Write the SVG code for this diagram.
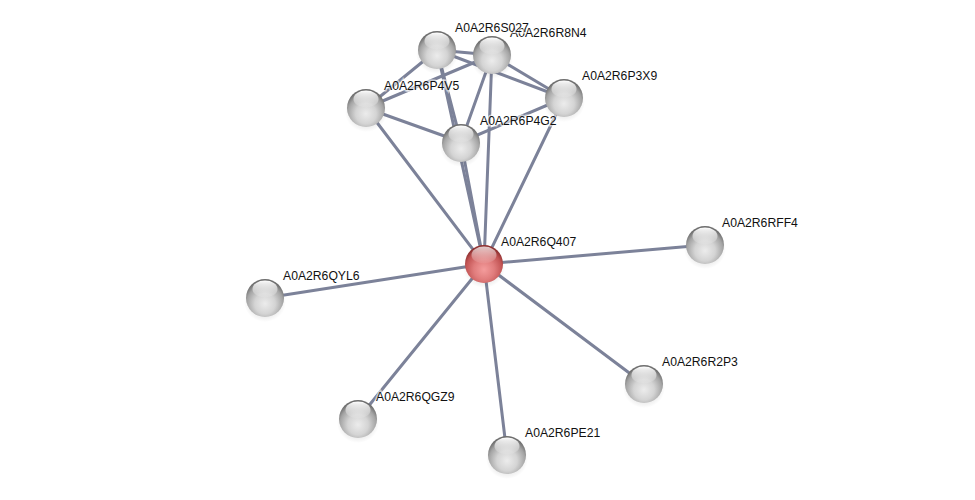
<svg xmlns="http://www.w3.org/2000/svg" width="975" height="500" viewBox="0 0 975 500">
<defs>
<radialGradient id="g" cx="50%" cy="65%" r="60%">
<stop offset="0" stop-color="#ececec"/>
<stop offset="0.45" stop-color="#d4d4d4"/>
<stop offset="0.8" stop-color="#a4a4a4"/>
<stop offset="1" stop-color="#6e6e6e"/>
</radialGradient>
<radialGradient id="r" cx="50%" cy="65%" r="60%">
<stop offset="0" stop-color="#f49c9c"/>
<stop offset="0.45" stop-color="#e07c7c"/>
<stop offset="0.8" stop-color="#c25454"/>
<stop offset="1" stop-color="#8e3030"/>
</radialGradient>
<linearGradient id="h" x1="0" y1="0" x2="0" y2="1">
<stop offset="0" stop-color="#fff" stop-opacity="1"/>
<stop offset="1" stop-color="#fff" stop-opacity="0.05"/>
</linearGradient>
<radialGradient id="sh" cx="50%" cy="50%" r="50%">
<stop offset="0" stop-color="#000" stop-opacity="0.25"/>
<stop offset="1" stop-color="#000" stop-opacity="0"/>
</radialGradient>
<g id="sph">
<ellipse cy="4" rx="21" ry="20" fill="url(#sh)"/>
<circle r="19" fill="url(#g)"/>
<ellipse cy="-9" rx="12.5" ry="8.5" fill="url(#h)"/>
</g>
</defs>
<style>
.e{stroke:#7c8299;stroke-width:3;stroke-linecap:round;fill:none}
text{font-family:"Liberation Sans",Arial,sans-serif;font-size:12.2px;fill:#111;stroke:#fff;stroke-width:3;stroke-opacity:0.6;paint-order:stroke}
</style>
<rect width="975" height="500" fill="#fff"/>
<g id="edges">
<line class="e" x1="437" y1="50" x2="366" y2="108"/>
<line class="e" x1="437" y1="50" x2="564" y2="98"/>
<line class="e" x1="437" y1="50" x2="461" y2="142"/>
<line class="e" x1="437" y1="50" x2="484" y2="264"/>
<line class="e" x1="437" y1="50" x2="492" y2="55"/>
<line class="e" x1="492" y1="55" x2="366" y2="108"/>
<line class="e" x1="492" y1="55" x2="564" y2="98"/>
<line class="e" x1="492" y1="55" x2="461" y2="142"/>
<line class="e" x1="492" y1="55" x2="484" y2="264"/>
<line class="e" x1="366" y1="108" x2="461" y2="142"/>
<line class="e" x1="366" y1="108" x2="484" y2="264"/>
<line class="e" x1="564" y1="98" x2="461" y2="142"/>
<line class="e" x1="564" y1="98" x2="484" y2="264"/>
<line class="e" x1="461" y1="142" x2="484" y2="264"/>
<line class="e" x1="484" y1="264" x2="705" y2="245"/>
<line class="e" x1="484" y1="264" x2="265" y2="298"/>
<line class="e" x1="484" y1="264" x2="644" y2="384"/>
<line class="e" x1="484" y1="264" x2="358" y2="419"/>
<line class="e" x1="484" y1="264" x2="507" y2="455"/>
</g>
<g id="A0A2R6R8N4"><use href="#sph" x="492" y="55"/><text x="510" y="37">A0A2R6R8N4</text></g>
<g id="A0A2R6S027"><use href="#sph" x="437" y="50"/><text x="455" y="32">A0A2R6S027</text></g>
<g id="A0A2R6P3X9"><use href="#sph" x="564" y="98"/><text x="582" y="80">A0A2R6P3X9</text></g>
<g id="A0A2R6P4V5"><use href="#sph" x="366" y="108"/><text x="384" y="90">A0A2R6P4V5</text></g>
<g id="A0A2R6P4G2"><use href="#sph" x="461" y="143"/><text x="480" y="125">A0A2R6P4G2</text></g>
<g id="A0A2R6Q407"><ellipse cx="484" cy="268" rx="21" ry="20" fill="url(#sh)"/><circle cx="484" cy="264" r="19" fill="url(#r)"/><ellipse cx="484" cy="255" rx="12.5" ry="8.5" fill="url(#h)" opacity="0.75"/><text x="501" y="246">A0A2R6Q407</text></g>
<g id="A0A2R6RFF4"><use href="#sph" x="705" y="245"/><text x="722" y="227">A0A2R6RFF4</text></g>
<g id="A0A2R6QYL6"><use href="#sph" x="265" y="298"/><text x="283" y="280">A0A2R6QYL6</text></g>
<g id="A0A2R6R2P3"><use href="#sph" x="644" y="384"/><text x="662" y="366">A0A2R6R2P3</text></g>
<g id="A0A2R6QGZ9"><use href="#sph" x="358" y="419"/><text x="376" y="401">A0A2R6QGZ9</text></g>
<g id="A0A2R6PE21"><use href="#sph" x="507" y="455"/><text x="525" y="437">A0A2R6PE21</text></g>
</svg>
